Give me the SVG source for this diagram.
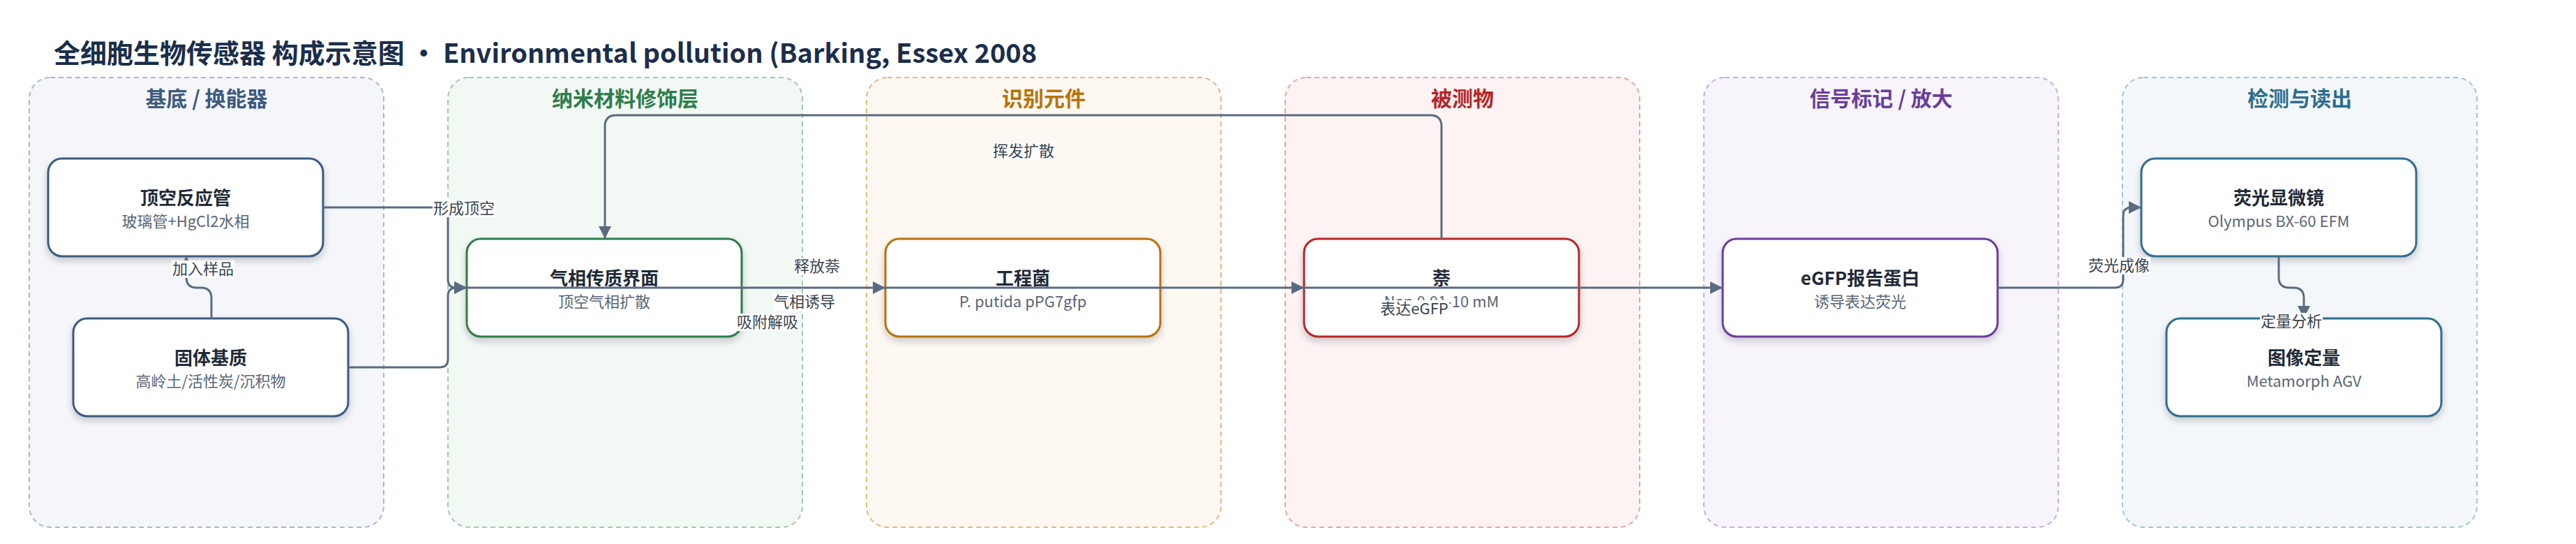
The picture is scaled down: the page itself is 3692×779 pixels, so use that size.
<svg xmlns="http://www.w3.org/2000/svg" width="3692" height="779" viewBox="0 0 3692 779">
<defs>
<style>
text{font-family:'Noto Sans CJK SC','Noto Sans',sans-serif}
.title{font-size:38px;font-weight:700;fill:#1b2e4b}
.gbox{stroke-width:2;stroke-dasharray:7 5}
.gt{font-size:30px;font-weight:700;text-anchor:middle}
.node{fill:#ffffff;stroke-width:3;filter:url(#sh)}
.nt{font-size:26px;font-weight:700;fill:#1f2a37;text-anchor:middle}
.ns{font-size:22px;fill:#5b6675;text-anchor:middle}
.edge{fill:none;stroke:#5b6b7f;stroke-width:3}
.arr{marker-end:url(#ah)}
.lbg{fill:#ffffff}
.lt{font-size:22px;fill:#3a4350;text-anchor:middle}
</style>
<filter id="sh" x="-10%" y="-10%" width="120%" height="130%">
<feDropShadow dx="0" dy="5" stdDeviation="5" flood-color="#1f2a37" flood-opacity="0.22"/>
</filter>
<marker id="ah" markerUnits="userSpaceOnUse" markerWidth="20" markerHeight="20" refX="18" refY="9" orient="auto">
<path d="M0,0 L18,9 L0,18 z" fill="#5b6b7f"/>
</marker>
</defs>
<rect x="0" y="0" width="3692" height="779" fill="#ffffff"/>
<text class="title" x="77" y="90">全细胞生物传感器 构成示意图 · Environmental pollution (Barking, Essex 2008</text>

<g id="groups">
<g id="g-substrate">
<rect class="gbox" x="42" y="111" width="508" height="644" rx="30" fill="#f4f6fa" stroke="#a9b7ca"/>
<text class="gt" x="296" y="152" fill="#3d5a80">基底 / 换能器</text>
</g>
<g id="g-nano">
<rect class="gbox" x="642" y="111" width="508" height="644" rx="30" fill="#f2f8f4" stroke="#a0c9ae"/>
<text class="gt" x="896" y="152" fill="#2e7d4a">纳米材料修饰层</text>
</g>
<g id="g-recog">
<rect class="gbox" x="1242" y="111" width="508" height="644" rx="30" fill="#fdf8f1" stroke="#e2b97f"/>
<text class="gt" x="1496" y="152" fill="#b8720a">识别元件</text>
</g>
<g id="g-analyte">
<rect class="gbox" x="1842" y="111" width="508" height="644" rx="30" fill="#fdf3f3" stroke="#e9a3a3"/>
<text class="gt" x="2096" y="152" fill="#b82525">被测物</text>
</g>
<g id="g-signal">
<rect class="gbox" x="2442" y="111" width="508" height="644" rx="30" fill="#f7f4fb" stroke="#c4aee0"/>
<text class="gt" x="2696" y="152" fill="#6a3d9a">信号标记 / 放大</text>
</g>
<g id="g-detect">
<rect class="gbox" x="3042" y="111" width="508" height="644" rx="30" fill="#f3f7f9" stroke="#a3c3cf"/>
<text class="gt" x="3296" y="152" fill="#2e6e8e">检测与读出</text>
</g>
</g>

<g id="n-tube">
<rect class="node" x="69" y="227" width="394" height="140" rx="20" stroke="#3d5a80"/>
<text class="nt" x="266" y="293">顶空反应管</text>
<text class="ns" x="266" y="325">玻璃管+HgCl2水相</text>
</g>
<g id="n-solid">
<rect class="node" x="105" y="456" width="394" height="140" rx="20" stroke="#3d5a80"/>
<text class="nt" x="302" y="522">固体基质</text>
<text class="ns" x="302" y="554">高岭土/活性炭/沉积物</text>
</g>
<g id="n-gas">
<rect class="node" x="669" y="342" width="394" height="140" rx="20" stroke="#2e7d4a"/>
<text class="nt" x="866" y="408">气相传质界面</text>
<text class="ns" x="866" y="440">顶空气相扩散</text>
</g>
<g id="n-bact">
<rect class="node" x="1269" y="342" width="394" height="140" rx="20" stroke="#b8720a"/>
<text class="nt" x="1466" y="408">工程菌</text>
<text class="ns" x="1466" y="440">P. putida pPG7gfp</text>
</g>
<g id="n-naph">
<rect class="node" x="1869" y="342" width="394" height="140" rx="20" stroke="#b82525"/>
<text class="nt" x="2066" y="408">萘</text>
<text class="ns" x="2066" y="440">Nap 0.01-10 mM</text>
</g>
<g id="n-egfp">
<rect class="node" x="2469" y="342" width="394" height="140" rx="20" stroke="#6a3d9a"/>
<text class="nt" x="2666" y="408">eGFP报告蛋白</text>
<text class="ns" x="2666" y="440">诱导表达荧光</text>
</g>
<g id="n-micro">
<rect class="node" x="3069" y="227" width="394" height="140" rx="20" stroke="#2e6e8e"/>
<text class="nt" x="3266" y="293">荧光显微镜</text>
<text class="ns" x="3266" y="325">Olympus BX-60 EFM</text>
</g>
<g id="n-quant">
<rect class="node" x="3105" y="456" width="394" height="140" rx="20" stroke="#2e6e8e"/>
<text class="nt" x="3302" y="522">图像定量</text>
<text class="ns" x="3302" y="554">Metamorph AGV</text>
</g>

<g id="connectors">
<path class="edge arr" d="M463 297 H630 Q642 297 642 309 V400 Q642 412 654 412 H669"/>
<path class="edge arr" d="M499 526 H630 Q642 526 642 514 V424 Q642 412 654 412 H669"/>
<path class="edge arr" d="M303 456 V427 Q303 412 288 412 H282 Q267 412 267 397 V367"/>
<path class="edge arr" d="M2066 342 V181 Q2066 165 2050 165 H883 Q867 165 867 181 V342"/>
<path class="edge arr" d="M669 412 H1269"/>
<path class="edge arr" d="M1269 412 H1869"/>
<path class="edge arr" d="M1869 412 H2469"/>
<path class="edge arr" d="M2863 412 H3031 Q3043 412 3043 400 V309 Q3043 297 3055 297 H3069"/>
<path class="edge arr" d="M3266 367 V397 Q3266 412 3281 412 H3287 Q3302 412 3302 427 V456"/>
</g>

<g id="edge-labels">
<rect class="lbg" x="246" y="373" width="90" height="25"/>
<text class="lt" x="291" y="393">加入样品</text>
<rect class="lbg" x="620" y="286" width="90" height="25"/>
<text class="lt" x="665" y="306">形成顶空</text>
<rect class="lbg" x="1422" y="204" width="90" height="25"/>
<text class="lt" x="1467" y="224">挥发扩散</text>
<rect class="lbg" x="1137" y="369" width="68" height="25"/>
<text class="lt" x="1171" y="389">释放萘</text>
<rect class="lbg" x="1108" y="420" width="90" height="25"/>
<text class="lt" x="1153" y="440">气相诱导</text>
<rect class="lbg" x="1055" y="449" width="90" height="25"/>
<text class="lt" x="1100" y="469">吸附解吸</text>
<rect class="lbg" x="1977" y="430" width="100" height="25"/>
<text class="lt" x="2027" y="450">表达eGFP</text>
<rect class="lbg" x="2992" y="368" width="90" height="25"/>
<text class="lt" x="3037" y="388">荧光成像</text>
<rect class="lbg" x="3239" y="448" width="90" height="25"/>
<text class="lt" x="3284" y="468">定量分析</text>
</g>
</svg>
